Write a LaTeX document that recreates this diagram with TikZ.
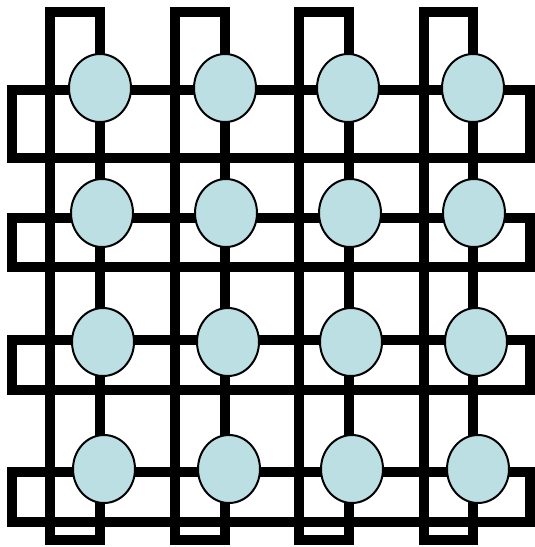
\documentclass[tikz,border=0pt]{standalone}
\usetikzlibrary{shapes.geometric}
\definecolor{nodefill}{RGB}{188,223,227}
\begin{document}
\begin{tikzpicture}[x=1pt,y=-1pt,
  wire/.style={draw=black,line width=10pt,line join=miter},
  pe/.style={ellipse,draw=black,line width=2pt,fill=nodefill,minimum width=62pt,minimum height=68pt,inner sep=0pt}]
\useasboundingbox (0,0) rectangle (535,547);
% column loops: right side through nodes at X, left return at L
\foreach \j/\X/\L in {1/100/50,2/225/175,3/349/299,4/473/424}{
  \coordinate (ct\j) at (\X,12);
  \coordinate (cb\j) at (\X,540);
  \coordinate (lb\j) at (\L,540);
  \coordinate (lt\j) at (\L,12);
  \draw[wire] (ct\j) -- (cb\j) -- (lb\j) -- (lt\j) -- cycle;
}
% row loops: upper side through nodes at Y, lower return at B
\foreach \i/\Y/\B in {1/90/158,2/218/267,3/340/390,4/472/522}{
  \coordinate (rl\i) at (12,\Y);
  \coordinate (rr\i) at (530,\Y);
  \coordinate (br\i) at (530,\B);
  \coordinate (bl\i) at (12,\B);
  \draw[wire] (rl\i) -- (rr\i) -- (br\i) -- (bl\i) -- cycle;
}
% processing elements
\foreach \i/\Y/\a/\b/\c/\d in {1/88/100/225/348/473,2/213/102/226/350/474,3/342/103/228/351/476,4/469/104/229/352/478}{
  \node[pe] (n\i1) at (\a,\Y) {};
  \node[pe] (n\i2) at (\b,\Y) {};
  \node[pe] (n\i3) at (\c,\Y) {};
  \node[pe] (n\i4) at (\d,\Y) {};
}
\end{tikzpicture}
\end{document}
